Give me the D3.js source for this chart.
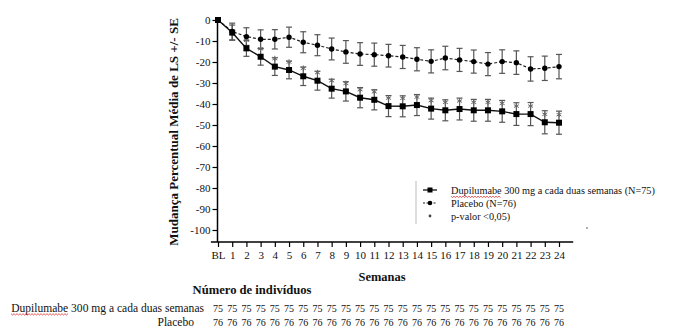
<!DOCTYPE html>
<html>
<head>
<meta charset="utf-8">
<script src="https://cdn.jsdelivr.net/npm/d3@7"></script>
<style>
  html, body { margin: 0; padding: 0; background: #fff; }
  svg { display: block; }
  svg text { font-family: "Liberation Serif", "Tinos", "Times New Roman", serif; }
</style>
</head>
<body>
<svg id="chart" width="683" height="327"></svg>
<script>
// Study weeks (BL = baseline)
const weeks = ["BL", "1", "2", "3", "4", "5", "6", "7", "8", "9", "10", "11", "12",
               "13", "14", "15", "16", "17", "18", "19", "20", "21", "22", "23", "24"];

// LS mean percent change from baseline
const dupiMean = [0, -6.0, -13.5, -17.5, -22.2, -23.8, -26.8, -28.9, -32.7, -34.0, -37.0, -38.0, -41.0,
                  -41.1, -40.5, -42.2, -43.0, -42.4, -43.0, -43.0, -43.5, -44.8, -44.8, -48.7, -48.9];
const placeboMean = [0, -5.5, -7.9, -9.2, -9.2, -8.2, -10.6, -12.0, -13.8, -15.2, -16.2, -16.5, -17.0,
                     -17.6, -18.7, -19.7, -18.1, -19.0, -19.8, -21.0, -19.8, -20.3, -23.3, -23.0, -22.2];

// Standard errors
const dupiSE = [0, 3.6, 3.8, 4.0, 4.2, 4.2, 4.4, 4.5, 4.5, 4.6, 4.8, 4.8, 5.0,
                5.0, 5.0, 5.0, 5.0, 5.2, 5.2, 5.2, 5.2, 5.4, 5.5, 5.5, 5.5];
const placeboSE = [0, 4.0, 4.2, 4.5, 4.6, 4.8, 5.0, 5.0, 5.2, 5.4, 5.4, 5.5, 5.4,
                   5.5, 5.5, 5.5, 5.6, 5.5, 5.5, 5.5, 5.6, 5.6, 5.8, 5.8, 5.8];

// Weeks with p < 0.05 (dupilumab vs placebo)
const significant = [false, false, true, true, true, true, true, true, true, true, true, true, true,
                     true, true, true, true, true, true, true, true, true, true, true, true];

// Number of subjects per visit
const nDupi = Array(25).fill(75);
const nPlacebo = Array(25).fill(76);

const yTicks = [0, -10, -20, -30, -40, -50, -60, -70, -80, -90, -100];

const dupiLabel = "Dupilumabe 300 mg a cada duas semanas";
const legendLabels = ["Dupilumabe 300 mg a cada duas semanas (N=75)", "Placebo (N=76)", "p-valor <0,05)"];

const svg = d3.select("#chart");
const FONT = '"Liberation Serif", "Tinos", "Times New Roman", serif';

// scale a text's font size so that it spans the given width
function fitWidth(sel, width) {
  const node = sel.node();
  const fs = parseFloat(sel.attr("font-size"));
  const w = node.getComputedTextLength();
  if (w > 0) sel.attr("font-size", (fs * width / w).toFixed(2));
  return sel;
}

const x = d3.scaleLinear().domain([0, 24]).range([218, 559]);
const y = d3.scaleLinear().domain([0, -100]).range([20, 230]);

// ---- axes ----
const axisColor = "#000";
const yAxisX = 217.5;
const xAxisY = 242;

const yAxis = d3.axisLeft(y).tickValues(yTicks).tickSize(5).tickPadding(2)
  .tickFormat(d => String(d));
const gy = svg.append("g").attr("transform", `translate(${yAxisX},0)`).call(yAxis)
  .attr("font-family", FONT);
gy.select(".domain").remove();
gy.selectAll(".tick line").attr("stroke", axisColor).attr("stroke-width", 1.2);
gy.selectAll(".tick text").attr("font-size", 11).attr("fill", "#111");
svg.append("line").attr("x1", yAxisX).attr("x2", yAxisX)
  .attr("y1", y(0) - 1).attr("y2", xAxisY)
  .attr("stroke", axisColor).attr("stroke-width", 1.5);

const xAxis = d3.axisBottom(x).tickValues(d3.range(0, 25)).tickSize(5).tickPadding(4)
  .tickFormat(i => weeks[i]);
const gx = svg.append("g").attr("transform", `translate(0,${xAxisY})`).call(xAxis)
  .attr("font-family", FONT);
gx.select(".domain").remove();
gx.selectAll(".tick line").attr("stroke", axisColor).attr("stroke-width", 1.2);
gx.selectAll(".tick text").attr("font-size", 11).attr("fill", "#111");
svg.append("line").attr("x1", x(-0.5)).attr("x2", x(25))
  .attr("y1", xAxisY).attr("y2", xAxisY)
  .attr("stroke", axisColor).attr("stroke-width", 1.5);

// axis titles
fitWidth(svg.append("text")
  .attr("transform", `translate(178,${(y(0) + xAxisY) / 2 + 1}) rotate(-90)`)
  .attr("text-anchor", "middle")
  .attr("font-size", 12.5).attr("font-weight", "bold").attr("fill", "#111")
  .text("Mudança Percentual Média de LS +/- SE"), 228);

fitWidth(svg.append("text")
  .attr("x", 382).attr("y", 281)
  .attr("text-anchor", "middle")
  .attr("font-size", 12.5).attr("font-weight", "bold").attr("fill", "#111")
  .text("Semanas"), 47);

// ---- series ----
const idx = d3.range(weeks.length);
const barColor = "#555";
const capW = 3;

function errorBars(mean, se, cls) {
  const g = svg.append("g").attr("class", cls);
  idx.filter(i => se[i] > 0).forEach(i => {
    const cx = x(i), top = y(mean[i] + se[i]), bot = y(mean[i] - se[i]);
    g.append("line").attr("x1", cx).attr("x2", cx).attr("y1", top).attr("y2", bot)
      .attr("stroke", barColor).attr("stroke-width", 1.2);
    [top, bot].forEach(yy => g.append("line")
      .attr("x1", cx - capW).attr("x2", cx + capW).attr("y1", yy).attr("y2", yy)
      .attr("stroke", barColor).attr("stroke-width", 1.2));
  });
}

errorBars(placeboMean, placeboSE, "placebo-err");
errorBars(dupiMean, dupiSE, "dupi-err");

const line = d3.line().x(i => x(i));

svg.append("path")
  .attr("d", line.y(i => y(placeboMean[i]))(idx))
  .attr("fill", "none").attr("stroke", "#222").attr("stroke-width", 1.2)
  .attr("stroke-dasharray", "3,2");

svg.append("path")
  .attr("d", line.y(i => y(dupiMean[i]))(idx))
  .attr("fill", "none").attr("stroke", "#111").attr("stroke-width", 1.4);

// significance marks above dupilumab points
const star = d3.symbol().type(d3.symbolAsterisk).size(22);
svg.append("g").selectAll("path")
  .data(idx.filter(i => significant[i]))
  .join("path")
  .attr("d", star)
  .attr("transform", i => `translate(${x(i)},${y(dupiMean[i]) - 8})`)
  .attr("fill", "none").attr("stroke", "#666").attr("stroke-width", 1);

// markers
svg.append("g").selectAll("circle")
  .data(idx)
  .join("circle")
  .attr("cx", i => x(i)).attr("cy", i => y(placeboMean[i]))
  .attr("r", 2.7).attr("fill", "#000");

svg.append("g").selectAll("rect")
  .data(idx)
  .join("rect")
  .attr("x", i => x(i) - 3).attr("y", i => y(dupiMean[i]) - 3)
  .attr("width", 6).attr("height", 6).attr("fill", "#000");

// ---- legend ----
const leg = svg.append("g");
leg.append("line").attr("x1", 416).attr("x2", 416).attr("y1", 181).attr("y2", 224)
  .attr("stroke", "#bbb").attr("stroke-width", 1);
const legY = [190, 203, 216];
leg.append("line").attr("x1", 423).attr("x2", 437).attr("y1", legY[0]).attr("y2", legY[0])
  .attr("stroke", "#111").attr("stroke-width", 1.3);
leg.append("rect").attr("x", 427.5).attr("y", legY[0] - 2.5).attr("width", 5).attr("height", 5).attr("fill", "#000");
leg.append("line").attr("x1", 423).attr("x2", 437).attr("y1", legY[1]).attr("y2", legY[1])
  .attr("stroke", "#222").attr("stroke-width", 1.2).attr("stroke-dasharray", "2,1.5");
leg.append("circle").attr("cx", 430).attr("cy", legY[1]).attr("r", 2.3).attr("fill", "#000");
leg.append("circle").attr("cx", 430).attr("cy", legY[2]).attr("r", 1.4).attr("fill", "#444");
const legTexts = leg.selectAll("text.leg")
  .data(legendLabels)
  .join("text").attr("class", "leg")
  .attr("x", 451).attr("y", (d, i) => legY[i] + 4)
  .attr("font-size", 12).attr("fill", "#111")
  .text(d => d);
fitWidth(legTexts.filter((d, i) => i === 0), 204);
const legSize = parseFloat(legTexts.filter((d, i) => i === 0).attr("font-size"));
legTexts.attr("font-size", legSize);
leg.append("circle").attr("cx", 587).attr("cy", 228).attr("r", 0.8).attr("fill", "#444");

// red wavy underline (spell-check style) beneath a word
function squiggle(x0, x1, yy) {
  const pts = [];
  for (let px = x0, k = 0; px <= x1; px += 1.5, k++) pts.push([px, yy + (k % 2 ? 1 : -0.3)]);
  svg.append("path").attr("d", d3.line()(pts))
    .attr("fill", "none").attr("stroke", "#e03030").attr("stroke-width", 0.8);
}
function wordWidth(word, size) {
  const t = svg.append("text").attr("font-size", size).text(word);
  const w = t.node().getComputedTextLength();
  t.remove();
  return w;
}

// ---- subjects table ----
fitWidth(svg.append("text")
  .attr("x", 252).attr("y", 294)
  .attr("text-anchor", "middle")
  .attr("font-size", 12).attr("font-weight", "bold").attr("fill", "#111")
  .text("Número de indivíduos"), 119);

const rowY = [311.5, 326];
const rowLab = fitWidth(svg.append("text")
  .attr("x", 204).attr("y", rowY[0])
  .attr("text-anchor", "end")
  .attr("font-size", 11.5).attr("fill", "#111")
  .text(dupiLabel), 193);
const rowSize = parseFloat(rowLab.attr("font-size"));
svg.append("text")
  .attr("x", 194).attr("y", rowY[1])
  .attr("text-anchor", "end")
  .attr("font-size", rowSize).attr("fill", "#111")
  .text("Placebo");

[nDupi, nPlacebo].forEach((arr, r) => {
  svg.append("g").selectAll("text")
    .data(idx)
    .join("text")
    .attr("x", i => x(i)).attr("y", rowY[r])
    .attr("text-anchor", "middle")
    .attr("font-size", 10).attr("fill", "#111")
    .text(i => arr[i]);
});

// spell-check underlines under "Dupilumabe"
squiggle(11, 11 + wordWidth("Dupilumabe", rowSize), rowY[0] + 2.5);
squiggle(451, 451 + wordWidth("Dupilumabe", legSize), legY[0] + 6.5);
</script>
</body>
</html>
